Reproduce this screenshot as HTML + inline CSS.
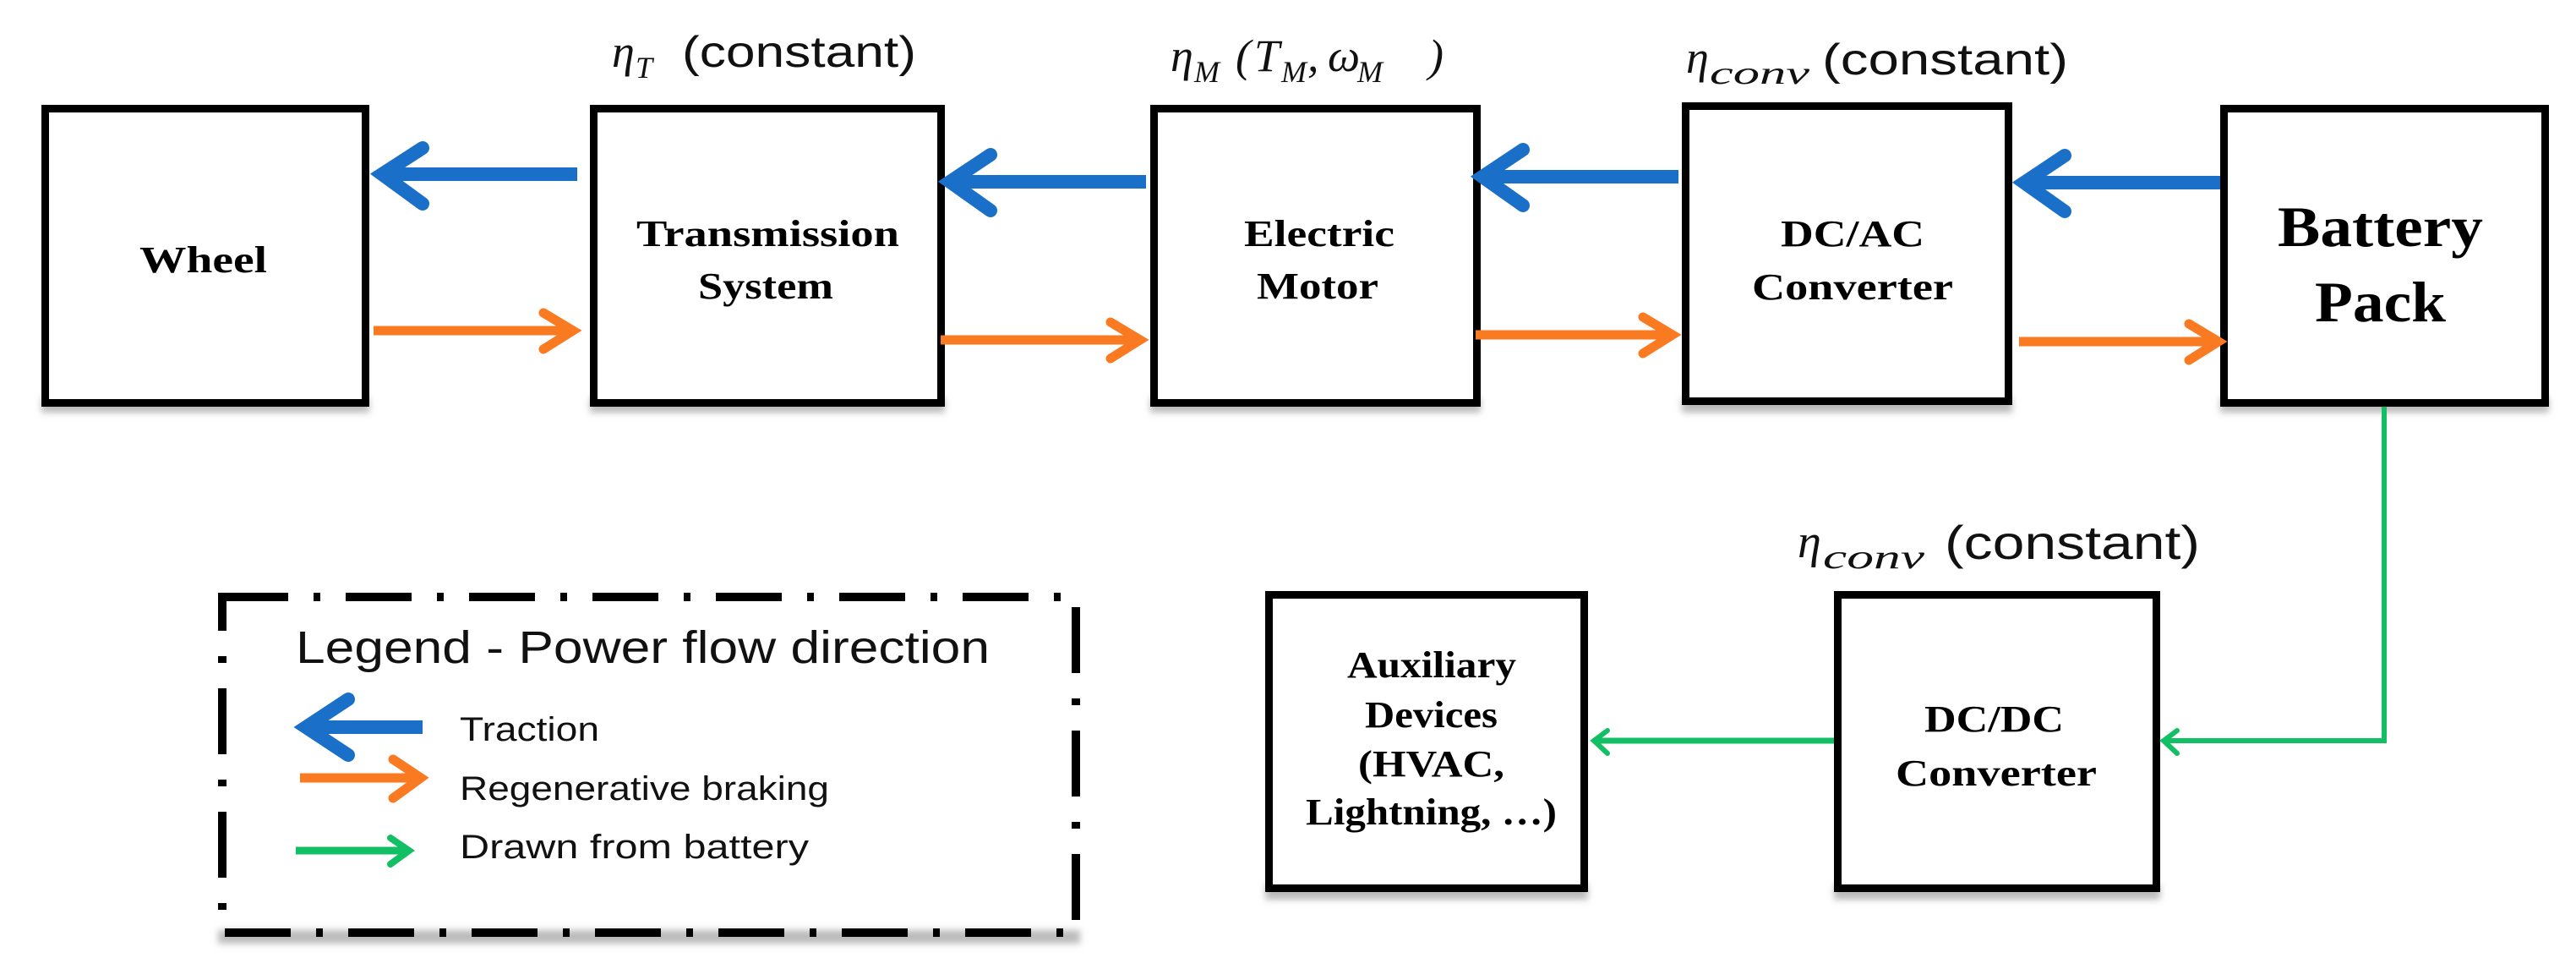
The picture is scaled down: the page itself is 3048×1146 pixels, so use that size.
<!DOCTYPE html>
<html><head><meta charset="utf-8"><style>
html,body{margin:0;padding:0;background:#fff;}
svg{display:block;}
.b{font-family:"Liberation Serif",serif;font-weight:bold;fill:#000;}
.s{font-family:"Liberation Sans",sans-serif;fill:#111;}
.m{font-family:"Liberation Serif",serif;font-style:italic;fill:#111;}
</style></head><body>
<svg width="3048" height="1146" viewBox="0 0 3048 1146" xmlns="http://www.w3.org/2000/svg">
<defs>
<filter id="sh" x="-5%" y="-5%" width="110%" height="115%"><feGaussianBlur stdDeviation="4"/></filter>
</defs>
<g fill="#bbb" filter="url(#sh)">
<rect x="49" y="470" width="388" height="18"/>
<rect x="698" y="470" width="420" height="18"/>
<rect x="1361" y="470" width="391" height="18"/>
<rect x="1990" y="470" width="391" height="18"/>
<rect x="2627" y="470" width="389" height="18"/>
<rect x="1497" y="1046" width="382" height="18"/>
<rect x="2170" y="1046" width="386" height="18"/>
<rect x="258" y="1100" width="1020" height="16"/>
</g>
<g fill="#fff" stroke="#000" stroke-width="9">
<rect x="53.5" y="128.5" width="379" height="348"/>
<rect x="702.5" y="128.5" width="411" height="348"/>
<rect x="1365.5" y="128.5" width="382" height="348"/>
<rect x="1994.5" y="125.5" width="382" height="349"/>
<rect x="2631.5" y="128.5" width="380" height="348"/>
<rect x="1501.5" y="703.5" width="373" height="347"/>
<rect x="2174.5" y="703.5" width="377" height="347"/>
</g>
<rect x="263" y="706" width="1010" height="397" fill="none" stroke="#000" stroke-width="10" stroke-dasharray="78 30 8 30"/>
<g stroke="#1a6fc9" stroke-width="16" fill="none" stroke-linecap="butt">
<line x1="683" y1="206" x2="450" y2="206"/><polyline points="500,175 452,206 500,241" stroke-linecap="round"/>
<line x1="1356" y1="215" x2="1124" y2="215"/><polyline points="1172,183 1124,215 1172,249" stroke-linecap="round"/>
<line x1="1986" y1="209" x2="1754" y2="209"/><polyline points="1802,177 1754,209 1802,243" stroke-linecap="round"/>
<line x1="2627" y1="216" x2="2395" y2="216"/><polyline points="2443,184 2395,216 2443,250" stroke-linecap="round"/>
<line x1="500" y1="860" x2="362" y2="860"/><polyline points="412,827 362,860 412,893" stroke-linecap="round"/>
</g>
<g stroke="#fa7a22" stroke-width="11" fill="none" stroke-linecap="round">
<line x1="442" y1="391" x2="676" y2="391" stroke-linecap="butt"/><polyline points="643,370 678,391 643,413"/>
<line x1="1113" y1="402" x2="1347" y2="402" stroke-linecap="butt"/><polyline points="1314,381 1349,402 1314,424"/>
<line x1="1746" y1="396" x2="1977" y2="396" stroke-linecap="butt"/><polyline points="1944,375 1979,396 1944,418"/>
<line x1="2389" y1="404" x2="2623" y2="404" stroke-linecap="butt"/><polyline points="2590,383 2625,404 2590,426"/>
<line x1="355" y1="920" x2="496" y2="920" stroke-linecap="butt"/><polyline points="465,898 498,920 465,944"/>
</g>
<g stroke="#12bf64" fill="none" stroke-linecap="round">
<polyline points="2821,481 2821,876 2564,876" stroke-width="6" stroke-linecap="butt"/>
<polyline points="2576,864 2560,876 2576,891" stroke-width="6"/>
<line x1="2170" y1="876" x2="1890" y2="876" stroke-width="7" stroke-linecap="butt"/>
<polyline points="1902,864 1886,876 1902,891" stroke-width="6"/>
<line x1="350" y1="1006" x2="482" y2="1006" stroke-width="9" stroke-linecap="butt"/>
<polyline points="462,991 484,1006 462,1022" stroke-width="8"/>
</g>
<g class="b" font-size="44" text-anchor="start">
<text x="165" y="322" textLength="151" lengthAdjust="spacingAndGlyphs">Wheel</text>
<text x="753" y="291" textLength="311" lengthAdjust="spacingAndGlyphs">Transmission</text>
<text x="826" y="353" textLength="160" lengthAdjust="spacingAndGlyphs">System</text>
<text x="1472" y="291" textLength="178" lengthAdjust="spacingAndGlyphs">Electric</text>
<text x="1487" y="353" textLength="144" lengthAdjust="spacingAndGlyphs">Motor</text>
<text x="2107" y="291" textLength="170" lengthAdjust="spacingAndGlyphs">DC/AC</text>
<text x="2073" y="354" textLength="238" lengthAdjust="spacingAndGlyphs">Converter</text>
<text x="2695" y="291" font-size="68" textLength="243" lengthAdjust="spacingAndGlyphs">Battery</text>
<text x="2739" y="380" font-size="68" textLength="155" lengthAdjust="spacingAndGlyphs">Pack</text>
<text x="1594" y="801" textLength="200" lengthAdjust="spacingAndGlyphs">Auxiliary</text>
<text x="1615" y="860" textLength="157" lengthAdjust="spacingAndGlyphs">Devices</text>
<text x="1607" y="918" textLength="173" lengthAdjust="spacingAndGlyphs">(HVAC,</text>
<text x="1545" y="975" textLength="297" lengthAdjust="spacingAndGlyphs">Lightning, …)</text>
<text x="2277" y="865" textLength="165" lengthAdjust="spacingAndGlyphs">DC/DC</text>
<text x="2243" y="929" textLength="238" lengthAdjust="spacingAndGlyphs">Converter</text>
</g>
<g class="s">
<text x="350" y="784" font-size="54" textLength="821" lengthAdjust="spacingAndGlyphs">Legend - Power flow direction</text>
<text x="544" y="876" font-size="40" textLength="165" lengthAdjust="spacingAndGlyphs">Traction</text>
<text x="544" y="946" font-size="40" textLength="437" lengthAdjust="spacingAndGlyphs">Regenerative braking</text>
<text x="544" y="1015" font-size="40" textLength="413" lengthAdjust="spacingAndGlyphs">Drawn from battery</text>
</g>
<text class="m" x="724" y="79" font-size="54">η</text>
<text class="m" x="752" y="92" font-size="36">T</text>
<text class="s" x="807" y="79" font-size="52" textLength="277" lengthAdjust="spacingAndGlyphs">(constant)</text>

<text class="m" x="1385" y="84" font-size="54">η</text>
<text class="m" x="1413" y="97" font-size="36">M</text>
<text class="m" x="1462" y="84" font-size="54">(</text>
<text class="m" x="1484" y="84" font-size="54">T</text>
<text class="m" x="1516" y="97" font-size="36">M</text>
<text class="m" x="1547" y="84" font-size="54">,</text>
<text class="m" x="1571" y="84" font-size="54">ω</text>
<text class="m" x="1606" y="97" font-size="36">M</text>
<text class="m" x="1690" y="84" font-size="54">)</text>

<text class="m" x="1995" y="86" font-size="54">η</text>
<text class="m" x="2023" y="99" font-size="38" textLength="118" lengthAdjust="spacingAndGlyphs">conv</text>
<text class="s" x="2156" y="88" font-size="52" textLength="291" lengthAdjust="spacingAndGlyphs">(constant)</text>

<text class="m" x="2127" y="659" font-size="56">η</text>
<text class="m" x="2157" y="672" font-size="40" textLength="120" lengthAdjust="spacingAndGlyphs">conv</text>
<text class="s" x="2301" y="661" font-size="56" textLength="302" lengthAdjust="spacingAndGlyphs">(constant)</text>
</svg>
</body></html>
